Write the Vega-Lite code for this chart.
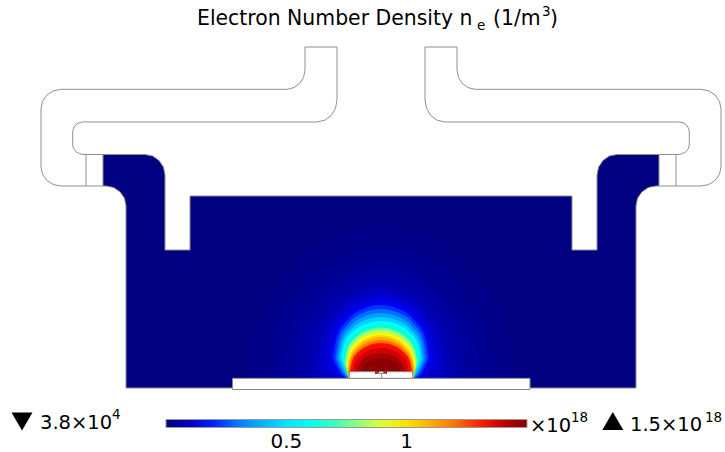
{"$schema":"https://vega.github.io/schema/vega-lite/v6.json","width":725,"height":452,"padding":0,"autosize":{"type":"fit","contains":"padding"},"background":"white","config":{"view":{"stroke":null},"font":"DejaVu Sans"},
"datasets":{
"chamber":[{"x":103,"y":154.5,"y2":186},{"x":106,"y":154.5,"y2":186},{"x":113.7,"y":154.5,"y2":187.5},{"x":120.1,"y":154.5,"y2":191.9},{"x":124.5,"y":154.5,"y2":198.3},{"x":126,"y":154.5,"y2":206},{"x":126.01,"y":154.5,"y2":388},{"x":145,"y":154.5,"y2":388},{"x":152.7,"y":156,"y2":388},{"x":159.1,"y":160.5,"y2":388},{"x":163.5,"y":167.2,"y2":388},{"x":165,"y":175,"y2":388},{"x":165.01,"y":250,"y2":388},{"x":190,"y":250,"y2":388},{"x":190.01,"y":196,"y2":388},{"x":572,"y":196,"y2":388},{"x":572.01,"y":250,"y2":388},{"x":597,"y":250,"y2":388},{"x":597.01,"y":175,"y2":388},{"x":598.5,"y":167.2,"y2":388},{"x":602.9,"y":160.5,"y2":388},{"x":609.3,"y":156,"y2":388},{"x":617,"y":154.5,"y2":388},{"x":636,"y":154.5,"y2":388},{"x":636.01,"y":154.5,"y2":206},{"x":637.5,"y":154.5,"y2":198.3},{"x":641.9,"y":154.5,"y2":191.9},{"x":648.3,"y":154.5,"y2":187.5},{"x":656,"y":154.5,"y2":186},{"x":659,"y":154.5,"y2":186}],
"plume":[
{"v":0.012,"x":246,"y":376,"y2":376},{"v":0.012,"x":255.4,"y":326.2,"y2":378},{"v":0.012,"x":286.5,"y":274.8,"y2":378},{"v":0.012,"x":327,"y":240.1,"y2":378},{"v":0.012,"x":381,"y":225,"y2":378},{"v":0.012,"x":435,"y":240.1,"y2":378},{"v":0.012,"x":475.5,"y":274.8,"y2":378},{"v":0.012,"x":506.6,"y":326.2,"y2":378},{"v":0.012,"x":516,"y":376,"y2":376},
{"v":0.025,"x":266,"y":376,"y2":376},{"v":0.025,"x":274,"y":332.8,"y2":378},{"v":0.025,"x":300.5,"y":288.2,"y2":378},{"v":0.025,"x":335,"y":258.1,"y2":378},{"v":0.025,"x":381,"y":245,"y2":378},{"v":0.025,"x":427,"y":258.1,"y2":378},{"v":0.025,"x":461.5,"y":288.2,"y2":378},{"v":0.025,"x":488,"y":332.8,"y2":378},{"v":0.025,"x":496,"y":376,"y2":376},
{"v":0.04,"x":281,"y":376,"y2":376},{"v":0.04,"x":288,"y":337.7,"y2":378},{"v":0.04,"x":311,"y":298.3,"y2":378},{"v":0.04,"x":341,"y":271.6,"y2":378},{"v":0.04,"x":381,"y":260,"y2":378},{"v":0.04,"x":421,"y":271.6,"y2":378},{"v":0.04,"x":451,"y":298.3,"y2":378},{"v":0.04,"x":474,"y":337.7,"y2":378},{"v":0.04,"x":481,"y":376,"y2":376},
{"v":0.06,"x":296,"y":376,"y2":376},{"v":0.06,"x":302,"y":341.7,"y2":378},{"v":0.06,"x":321,"y":306.3,"y2":378},{"v":0.06,"x":346.8,"y":282.4,"y2":378},{"v":0.06,"x":381,"y":274,"y2":378},{"v":0.06,"x":415.2,"y":282.4,"y2":378},{"v":0.06,"x":441,"y":306.3,"y2":378},{"v":0.06,"x":460,"y":341.7,"y2":378},{"v":0.06,"x":466,"y":376,"y2":376},
{"v":0.08,"x":309,"y":372,"y2":372},{"v":0.08,"x":314,"y":339.4,"y2":378},{"v":0.08,"x":330.6,"y":309.2,"y2":378},{"v":0.08,"x":352.2,"y":291.3,"y2":378},{"v":0.08,"x":381,"y":284,"y2":378},{"v":0.08,"x":409.8,"y":291.3,"y2":378},{"v":0.08,"x":431.4,"y":309.2,"y2":378},{"v":0.08,"x":448,"y":339.4,"y2":378},{"v":0.08,"x":453,"y":372,"y2":372},
{"v":0.11,"x":318,"y":368,"y2":368},{"v":0.11,"x":322.4,"y":339.5,"y2":378},{"v":0.11,"x":336.9,"y":313,"y2":378},{"v":0.11,"x":355.8,"y":297.4,"y2":378},{"v":0.11,"x":381,"y":291,"y2":378},{"v":0.11,"x":406.2,"y":297.4,"y2":378},{"v":0.11,"x":425.1,"y":313,"y2":378},{"v":0.11,"x":439.6,"y":339.5,"y2":378},{"v":0.11,"x":444,"y":368,"y2":368},
{"v":0.14,"x":325,"y":364,"y2":364},{"v":0.14,"x":328.9,"y":338.8,"y2":370},{"v":0.14,"x":341.8,"y":315.4,"y2":378},{"v":0.14,"x":358.6,"y":301.6,"y2":378},{"v":0.14,"x":381,"y":296,"y2":378},{"v":0.14,"x":403.4,"y":301.6,"y2":378},{"v":0.14,"x":420.2,"y":315.4,"y2":378},{"v":0.14,"x":433.1,"y":338.8,"y2":370},{"v":0.14,"x":437,"y":364,"y2":364},
{"v":0.17,"x":330,"y":360,"y2":360},{"v":0.17,"x":333.6,"y":338.2,"y2":367},{"v":0.17,"x":345.3,"y":317.9,"y2":378},{"v":0.17,"x":360.6,"y":305.9,"y2":378},{"v":0.17,"x":381,"y":301,"y2":378},{"v":0.17,"x":401.4,"y":305.9,"y2":378},{"v":0.17,"x":416.7,"y":317.9,"y2":378},{"v":0.17,"x":428.4,"y":338.2,"y2":367},{"v":0.17,"x":432,"y":360,"y2":360},
{"v":0.21,"x":333,"y":358,"y2":358},{"v":0.21,"x":336.4,"y":338.4,"y2":366},{"v":0.21,"x":347.4,"y":320.2,"y2":378},{"v":0.21,"x":361.8,"y":309.4,"y2":378},{"v":0.21,"x":381,"y":305,"y2":378},{"v":0.21,"x":400.2,"y":309.4,"y2":378},{"v":0.21,"x":414.6,"y":320.2,"y2":378},{"v":0.21,"x":425.6,"y":338.4,"y2":366},{"v":0.21,"x":429,"y":358,"y2":358},
{"v":0.28,"x":335.5,"y":358,"y2":358},{"v":0.28,"x":338.7,"y":339.9,"y2":366},{"v":0.28,"x":349.1,"y":323,"y2":378},{"v":0.28,"x":362.8,"y":313.1,"y2":378},{"v":0.28,"x":381,"y":309,"y2":378},{"v":0.28,"x":399.2,"y":313.1,"y2":378},{"v":0.28,"x":412.9,"y":323,"y2":378},{"v":0.28,"x":423.3,"y":339.9,"y2":366},{"v":0.28,"x":426.5,"y":358,"y2":358},
{"v":0.36,"x":337.5,"y":358,"y2":358},{"v":0.36,"x":340.5,"y":341.4,"y2":366},{"v":0.36,"x":350.5,"y":325.9,"y2":378},{"v":0.36,"x":363.6,"y":316.7,"y2":378},{"v":0.36,"x":381,"y":313,"y2":378},{"v":0.36,"x":398.4,"y":316.7,"y2":378},{"v":0.36,"x":411.5,"y":325.9,"y2":378},{"v":0.36,"x":421.5,"y":341.4,"y2":366},{"v":0.36,"x":424.5,"y":358,"y2":358},
{"v":0.46,"x":339.5,"y":358,"y2":358},{"v":0.46,"x":342.4,"y":342.8,"y2":366},{"v":0.46,"x":351.9,"y":328.7,"y2":378},{"v":0.46,"x":364.4,"y":320.4,"y2":378},{"v":0.46,"x":381,"y":317,"y2":378},{"v":0.46,"x":397.6,"y":320.4,"y2":378},{"v":0.46,"x":410.1,"y":328.7,"y2":378},{"v":0.46,"x":419.6,"y":342.8,"y2":366},{"v":0.46,"x":422.5,"y":358,"y2":358},
{"v":0.56,"x":341.5,"y":358,"y2":358},{"v":0.56,"x":344.3,"y":344.3,"y2":366},{"v":0.56,"x":353.3,"y":331.6,"y2":378},{"v":0.56,"x":365.2,"y":324.1,"y2":378},{"v":0.56,"x":381,"y":321,"y2":378},{"v":0.56,"x":396.8,"y":324.1,"y2":378},{"v":0.56,"x":408.7,"y":331.6,"y2":378},{"v":0.56,"x":417.7,"y":344.3,"y2":366},{"v":0.56,"x":420.5,"y":358,"y2":358},
{"v":0.66,"x":343,"y":360,"y2":360},{"v":0.66,"x":345.7,"y":346.9,"y2":367},{"v":0.66,"x":354.4,"y":334.7,"y2":378},{"v":0.66,"x":365.8,"y":327.4,"y2":378},{"v":0.66,"x":381,"y":324.5,"y2":378},{"v":0.66,"x":396.2,"y":327.4,"y2":378},{"v":0.66,"x":407.6,"y":334.7,"y2":378},{"v":0.66,"x":416.3,"y":346.9,"y2":367},{"v":0.66,"x":419,"y":360,"y2":360},
{"v":0.76,"x":344.5,"y":362,"y2":362},{"v":0.76,"x":347.1,"y":349.2,"y2":368.4},{"v":0.76,"x":355.4,"y":337.4,"y2":378},{"v":0.76,"x":366.4,"y":330.4,"y2":378},{"v":0.76,"x":381,"y":327.5,"y2":378},{"v":0.76,"x":395.6,"y":330.4,"y2":378},{"v":0.76,"x":406.6,"y":337.4,"y2":378},{"v":0.76,"x":414.9,"y":349.2,"y2":368.4},{"v":0.76,"x":417.5,"y":362,"y2":362},
{"v":0.85,"x":345.5,"y":364,"y2":364},{"v":0.85,"x":348,"y":351.4,"y2":370},{"v":0.85,"x":356.1,"y":339.7,"y2":378},{"v":0.85,"x":366.8,"y":332.8,"y2":378},{"v":0.85,"x":381,"y":330,"y2":378},{"v":0.85,"x":395.2,"y":332.8,"y2":378},{"v":0.85,"x":405.9,"y":339.7,"y2":378},{"v":0.85,"x":414,"y":351.4,"y2":370},{"v":0.85,"x":416.5,"y":364,"y2":364},
{"v":0.94,"x":346.5,"y":367,"y2":367},{"v":0.94,"x":348.9,"y":354.4,"y2":378},{"v":0.94,"x":356.8,"y":342.7,"y2":378},{"v":0.94,"x":367.2,"y":335.8,"y2":378},{"v":0.94,"x":381,"y":333,"y2":378},{"v":0.94,"x":394.8,"y":335.8,"y2":378},{"v":0.94,"x":405.2,"y":342.7,"y2":378},{"v":0.94,"x":413.1,"y":354.4,"y2":378},{"v":0.94,"x":415.5,"y":367,"y2":367},
{"v":1.02,"x":347,"y":370,"y2":370},{"v":1.02,"x":349.4,"y":357,"y2":378},{"v":1.02,"x":357.2,"y":345,"y2":378},{"v":1.02,"x":367.4,"y":337.9,"y2":378},{"v":1.02,"x":381,"y":335,"y2":378},{"v":1.02,"x":394.6,"y":337.9,"y2":378},{"v":1.02,"x":404.8,"y":345,"y2":378},{"v":1.02,"x":412.6,"y":357,"y2":378},{"v":1.02,"x":415,"y":370,"y2":370},
{"v":1.1,"x":347.5,"y":372,"y2":372},{"v":1.1,"x":349.8,"y":359,"y2":378},{"v":1.1,"x":357.5,"y":347,"y2":378},{"v":1.1,"x":367.6,"y":339.9,"y2":378},{"v":1.1,"x":381,"y":337,"y2":378},{"v":1.1,"x":394.4,"y":339.9,"y2":378},{"v":1.1,"x":404.5,"y":347,"y2":378},{"v":1.1,"x":412.2,"y":359,"y2":378},{"v":1.1,"x":414.5,"y":372,"y2":372},
{"v":1.2,"x":348.5,"y":372,"y2":372},{"v":1.2,"x":350.8,"y":360.2,"y2":378},{"v":1.2,"x":358.2,"y":349.2,"y2":378},{"v":1.2,"x":368,"y":342.7,"y2":378},{"v":1.2,"x":381,"y":340,"y2":378},{"v":1.2,"x":394,"y":342.7,"y2":378},{"v":1.2,"x":403.8,"y":349.2,"y2":378},{"v":1.2,"x":411.2,"y":360.2,"y2":378},{"v":1.2,"x":413.5,"y":372,"y2":372},
{"v":1.31,"x":350,"y":372,"y2":372},{"v":1.31,"x":352.2,"y":361.3,"y2":378},{"v":1.31,"x":359.3,"y":351.3,"y2":378},{"v":1.31,"x":368.6,"y":345.4,"y2":378},{"v":1.31,"x":381,"y":343,"y2":378},{"v":1.31,"x":393.4,"y":345.4,"y2":378},{"v":1.31,"x":402.7,"y":351.3,"y2":378},{"v":1.31,"x":409.8,"y":361.3,"y2":378},{"v":1.31,"x":412,"y":372,"y2":372},
{"v":1.38,"x":353,"y":372,"y2":372},{"v":1.38,"x":355,"y":363.1,"y2":378},{"v":1.38,"x":361.4,"y":354.9,"y2":378},{"v":1.38,"x":369.8,"y":350,"y2":378},{"v":1.38,"x":381,"y":348,"y2":378},{"v":1.38,"x":392.2,"y":350,"y2":378},{"v":1.38,"x":400.6,"y":354.9,"y2":378},{"v":1.38,"x":407,"y":363.1,"y2":378},{"v":1.38,"x":409,"y":372,"y2":372},
{"v":1.44,"x":357,"y":372,"y2":372},{"v":1.44,"x":358.7,"y":365,"y2":378},{"v":1.44,"x":364.2,"y":358.4,"y2":378},{"v":1.44,"x":371.4,"y":354.6,"y2":378},{"v":1.44,"x":381,"y":353,"y2":378},{"v":1.44,"x":390.6,"y":354.6,"y2":378},{"v":1.44,"x":397.8,"y":358.4,"y2":378},{"v":1.44,"x":403.3,"y":365,"y2":378},{"v":1.44,"x":405,"y":372,"y2":372},
{"v":1.48,"x":362,"y":372,"y2":372},{"v":1.48,"x":363.3,"y":366.8,"y2":378},{"v":1.48,"x":367.7,"y":362,"y2":378},{"v":1.48,"x":373.4,"y":359.2,"y2":378},{"v":1.48,"x":381,"y":358,"y2":378},{"v":1.48,"x":388.6,"y":359.2,"y2":378},{"v":1.48,"x":394.3,"y":362,"y2":378},{"v":1.48,"x":398.7,"y":366.8,"y2":378},{"v":1.48,"x":400,"y":372,"y2":372}
],
"boxes":[{"x":232.5,"x2":530,"y":378.3,"y2":389.5},{"x":349.3,"x2":412.7,"y":371.7,"y2":378.3}],
"bumps":[{"x":375,"x2":379,"y":371,"y2":374},{"x":383.3,"x2":387,"y":371,"y2":374}],
"outline":[
{"p":"a","i":1,"x":305,"y":47},{"p":"a","i":2,"x":305,"y":70},{"p":"a","i":3,"x":303.6,"y":77.3},{"p":"a","i":4,"x":299.7,"y":83.4},{"p":"a","i":5,"x":294,"y":87.6},{"p":"a","i":6,"x":287,"y":89.3},{"p":"a","i":7,"x":61,"y":89.3},{"p":"a","i":8,"x":53.3,"y":90.8},{"p":"a","i":9,"x":46.9,"y":95},{"p":"a","i":10,"x":42.5,"y":101.3},{"p":"a","i":11,"x":41,"y":109},{"p":"a","i":12,"x":41,"y":167},{"p":"a","i":13,"x":42.5,"y":174.3},{"p":"a","i":14,"x":46.9,"y":180.4},{"p":"a","i":15,"x":53.3,"y":184.6},{"p":"a","i":16,"x":61,"y":186},{"p":"a","i":17,"x":106,"y":186},{"p":"a","i":18,"x":113.7,"y":187.5},{"p":"a","i":19,"x":120.1,"y":191.9},{"p":"a","i":20,"x":124.5,"y":198.3},{"p":"a","i":21,"x":126,"y":206},{"p":"a","i":22,"x":126,"y":388},{"p":"a","i":23,"x":232,"y":388},
{"p":"b","i":1,"x":305,"y":47},{"p":"b","i":2,"x":337,"y":47},{"p":"b","i":3,"x":337,"y":100},{"p":"b","i":4,"x":335.5,"y":108.4},{"p":"b","i":5,"x":331.1,"y":115.6},{"p":"b","i":6,"x":324.7,"y":120.3},{"p":"b","i":7,"x":317,"y":122},{"p":"b","i":8,"x":82.7,"y":122},{"p":"b","i":9,"x":78.9,"y":122.8},{"p":"b","i":10,"x":75.6,"y":124.9},{"p":"b","i":11,"x":73.5,"y":128.2},{"p":"b","i":12,"x":72.7,"y":132},{"p":"b","i":13,"x":72.7,"y":145},{"p":"b","i":14,"x":73.6,"y":148.6},{"p":"b","i":15,"x":76,"y":151.7},{"p":"b","i":16,"x":79.7,"y":153.8},{"p":"b","i":17,"x":84,"y":154.5},{"p":"b","i":18,"x":145,"y":154.5},{"p":"b","i":19,"x":152.7,"y":156},{"p":"b","i":20,"x":159.1,"y":160.5},{"p":"b","i":21,"x":163.5,"y":167.2},{"p":"b","i":22,"x":165,"y":175},{"p":"b","i":23,"x":165,"y":250},{"p":"b","i":24,"x":190,"y":250},{"p":"b","i":25,"x":190,"y":196},{"p":"b","i":26,"x":572,"y":196},{"p":"b","i":27,"x":572,"y":250},{"p":"b","i":28,"x":597,"y":250},{"p":"b","i":29,"x":597,"y":175},{"p":"b","i":30,"x":598.5,"y":167.2},{"p":"b","i":31,"x":602.9,"y":160.5},{"p":"b","i":32,"x":609.3,"y":156},{"p":"b","i":33,"x":617,"y":154.5},{"p":"b","i":34,"x":678,"y":154.5},{"p":"b","i":35,"x":682.3,"y":153.8},{"p":"b","i":36,"x":686,"y":151.7},{"p":"b","i":37,"x":688.4,"y":148.6},{"p":"b","i":38,"x":689.3,"y":145},{"p":"b","i":39,"x":689.3,"y":132},{"p":"b","i":40,"x":688.5,"y":128.2},{"p":"b","i":41,"x":686.4,"y":124.9},{"p":"b","i":42,"x":683.1,"y":122.8},{"p":"b","i":43,"x":679.3,"y":122},{"p":"b","i":44,"x":445,"y":122},{"p":"b","i":45,"x":437.3,"y":120.3},{"p":"b","i":46,"x":430.9,"y":115.6},{"p":"b","i":47,"x":426.5,"y":108.4},{"p":"b","i":48,"x":425,"y":100},{"p":"b","i":49,"x":425,"y":47},{"p":"b","i":50,"x":457,"y":47},
{"p":"c","i":1,"x":457,"y":47},{"p":"c","i":2,"x":457,"y":70},{"p":"c","i":3,"x":458.4,"y":77.3},{"p":"c","i":4,"x":462.3,"y":83.4},{"p":"c","i":5,"x":468,"y":87.6},{"p":"c","i":6,"x":475,"y":89.3},{"p":"c","i":7,"x":701,"y":89.3},{"p":"c","i":8,"x":708.7,"y":90.8},{"p":"c","i":9,"x":715.1,"y":95},{"p":"c","i":10,"x":719.5,"y":101.3},{"p":"c","i":11,"x":721,"y":109},{"p":"c","i":12,"x":721,"y":167},{"p":"c","i":13,"x":719.5,"y":174.3},{"p":"c","i":14,"x":715.1,"y":180.4},{"p":"c","i":15,"x":708.7,"y":184.6},{"p":"c","i":16,"x":701,"y":186},{"p":"c","i":17,"x":656,"y":186},{"p":"c","i":18,"x":648.3,"y":187.5},{"p":"c","i":19,"x":641.9,"y":191.9},{"p":"c","i":20,"x":637.5,"y":198.3},{"p":"c","i":21,"x":636,"y":206},{"p":"c","i":22,"x":636,"y":388},{"p":"c","i":23,"x":530,"y":388},
{"p":"d","i":1,"x":86,"y":154.5},{"p":"d","i":2,"x":86,"y":186},{"p":"e","i":1,"x":103,"y":154.5},{"p":"e","i":2,"x":103,"y":186},{"p":"f","i":1,"x":676,"y":154.5},{"p":"f","i":2,"x":676,"y":186},{"p":"g","i":1,"x":659,"y":154.5},{"p":"g","i":2,"x":659,"y":186},
{"p":"h","i":1,"x":377,"y":373.5},{"p":"h","i":2,"x":386,"y":373.5},{"p":"k","i":1,"x":381.7,"y":373.5},{"p":"k","i":2,"x":381.7,"y":378}
],
"heading":[{"t":"Electron Number Density n","x":197,"y":25},{"t":"(1/m","x":493,"y":25},{"t":")","x":550,"y":25}],
"big":[{"t":"3.8×10","x":40,"y":429},{"t":"×10","x":530,"y":431.5},{"t":"1.5×10","x":630,"y":431}],
"small":[{"t":"e","x":477,"y":30},{"t":"3","x":542,"y":16},{"t":"4","x":112,"y":419},{"t":"18","x":571,"y":422},{"t":"18","x":705,"y":422}],
"down":[{"x":22,"y":421.5}],
"up":[{"x":612.8,"y":421}],
"ticks":[{"x":286,"y":419.5,"y2":428},{"x":406,"y":419.5,"y2":428}]
},
"encoding":{"x":{"field":"x","type":"quantitative","scale":{"domain":[0,725],"nice":false,"zero":false},"axis":null},"y":{"field":"y","type":"quantitative","scale":{"domain":[452,0],"nice":false,"zero":false},"axis":null,"stack":null}},
"layer":[
{"data":{"name":"chamber"},"mark":{"type":"area","fill":"#000080"},"encoding":{"y2":{"field":"y2"}}},
{"data":{"name":"plume"},"mark":{"type":"area","interpolate":"monotone"},"encoding":{"y2":{"field":"y2"},"detail":{"field":"v"},"color":{"field":"v","type":"quantitative","scale":{"domain":[0,0.1875,0.5625,0.9375,1.3125,1.5],"range":["#000080","#0000ff","#00ffff","#ffff00","#ff0000","#800000"]},"legend":{"orient":"none","legendX":166,"legendY":419.5,"direction":"horizontal","title":null,"gradientLength":361,"gradientThickness":8,"values":[0.5,1],"labelExpr":"datum.value","labelFont":"DejaVu Sans","labelFontSize":20,"labelColor":"#000","labelOffset":4,"gradientStrokeColor":"#999","gradientStrokeWidth":1}}}},
{"data":{"name":"boxes"},"mark":{"type":"rect","fill":"white","stroke":"#888","strokeWidth":1},"encoding":{"x2":{"field":"x2"},"y2":{"field":"y2"}}},
{"data":{"name":"bumps"},"mark":{"type":"rect","fill":"#a82020"},"encoding":{"x2":{"field":"x2"},"y2":{"field":"y2"}}},
{"data":{"name":"outline"},"mark":{"type":"line","color":"#8f8f8f","strokeWidth":1},"encoding":{"detail":{"field":"p"},"order":{"field":"i"}}},
{"data":{"name":"ticks"},"mark":{"type":"rule","color":"#777","strokeWidth":1},"encoding":{"y2":{"field":"y2"}}},
{"data":{"name":"heading"},"mark":{"type":"text","font":"DejaVu Sans","fontSize":20.4,"align":"left","baseline":"alphabetic","color":"#000"},"encoding":{"text":{"field":"t"}}},
{"data":{"name":"big"},"mark":{"type":"text","font":"DejaVu Sans","fontSize":19.5,"align":"left","baseline":"alphabetic","color":"#000"},"encoding":{"text":{"field":"t"}}},
{"data":{"name":"small"},"mark":{"type":"text","font":"DejaVu Sans","fontSize":13.5,"align":"left","baseline":"alphabetic","color":"#000"},"encoding":{"text":{"field":"t"}}},
{"data":{"name":"down"},"mark":{"type":"point","shape":"triangle-down","size":441,"filled":true,"color":"#000","opacity":1}},
{"data":{"name":"up"},"mark":{"type":"point","shape":"triangle-up","size":441,"filled":true,"color":"#000","opacity":1}}
]}
